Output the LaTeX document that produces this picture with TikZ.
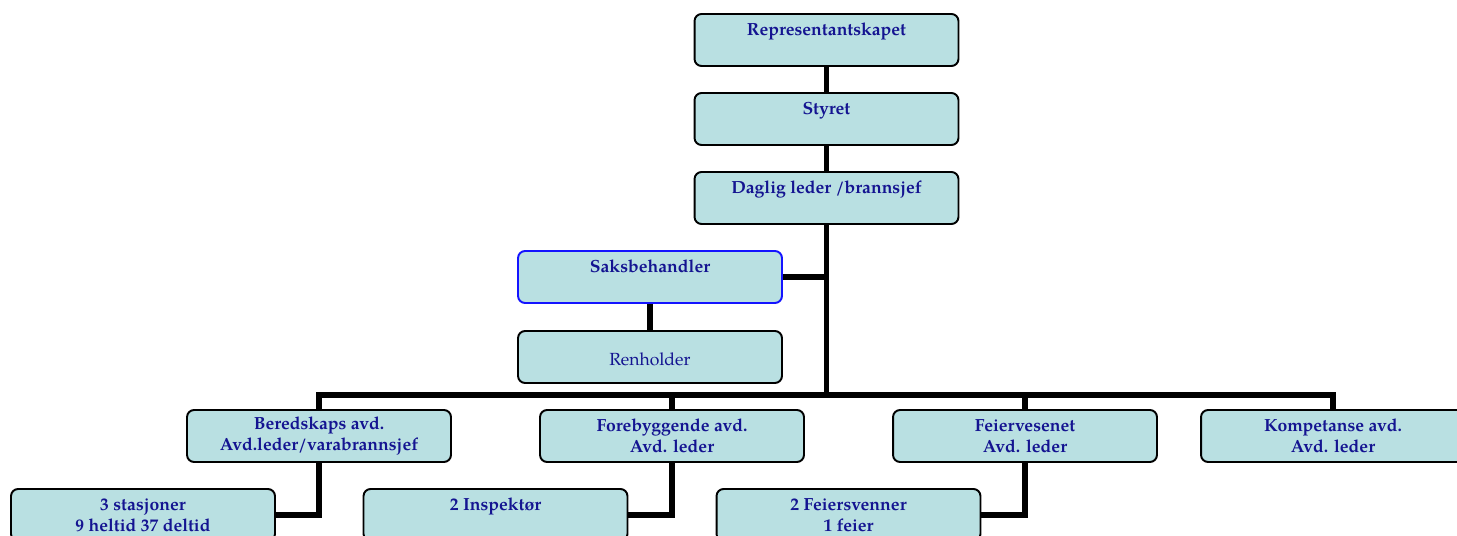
\documentclass[tikz,border=0pt]{standalone}
\usepackage{fontspec}
\setmainfont{TeX Gyre Pagella}
\usepackage{tikz}

\definecolor{boxfill}{RGB}{185,224,226}
\definecolor{boxtext}{RGB}{20,20,145}
\definecolor{boxblue}{RGB}{20,20,255}

\tikzset{
    unit/.style={draw,line width=1.1pt,rounded corners=4pt,fill=boxfill,text=boxtext,
        font=\fontsize{10}{12}\selectfont\bfseries,align=center,
        minimum width=5.28cm,minimum height=1.04cm,inner sep=1pt},
    conn/.style={line width=3.4pt,line join=miter}
}

\begin{document}
\begin{tikzpicture}[x=0.02cm,y=-0.02cm]
    \useasboundingbox (0,0) rectangle (1457,536);
    \clip (0,0) rectangle (1457,536);

    % Draw the top units
    \node[unit] (rep) at (826.5,40) {Representantskapet\\~};
    \node[unit] (sty) at (826.5,119) {Styret\\~};
    \node[unit] (dag) at (826.5,198) {Daglig leder /brannsjef\\~};

    % Draw the staff units
    \node[unit,draw=boxblue] (sak) at (650,277) {Saksbehandler\\~};
    \node[unit,font=\fontsize{10}{12}\selectfont] (ren) at (650,357) {\\[-2pt]Renholder};

    % Draw the departments
    \node[unit] (ber) at (319,436) {Beredskaps avd.\\Avd.leder/varabrannsjef};
    \node[unit] (for) at (672,436) {Forebyggende avd.\\Avd. leder};
    \node[unit] (fei) at (1025,436) {Feiervesenet\\Avd. leder};
    \node[unit] (kom) at (1333,436) {Kompetanse avd.\\Avd. leder};

    % Draw the sections
    \node[unit] (sta) at (143,515) {3 stasjoner\\9 heltid 37 deltid};
    \node[unit] (ins) at (495.5,515) {2 Inspektør\\~};
    \node[unit] (fsv) at (848.5,515) {2 Feiersvenner\\1 feier};

    % Draw the connectors
    \coordinate (bar) at (826.5,395);
    \draw[conn] (rep) -- (sty);
    \draw[conn] (sty) -- (dag);
    \draw[conn] (dag.south) -- (bar);
    \draw[conn] (sak.east) -- (sak.east -| bar);
    \draw[conn] (sak) -- (ren);
    \draw[conn] (ber.north) -- (ber.north |- bar) -- (kom.north |- bar) -- (kom.north);
    \foreach \d in {for,fei}
        \draw[conn] (\d.north) -- (\d.north |- bar);
    \draw[conn] (ber.south) |- (sta.east);
    \draw[conn] (for.south) |- (ins.east);
    \draw[conn] (fei.south) |- (fsv.east);

\end{tikzpicture}
\end{document}
